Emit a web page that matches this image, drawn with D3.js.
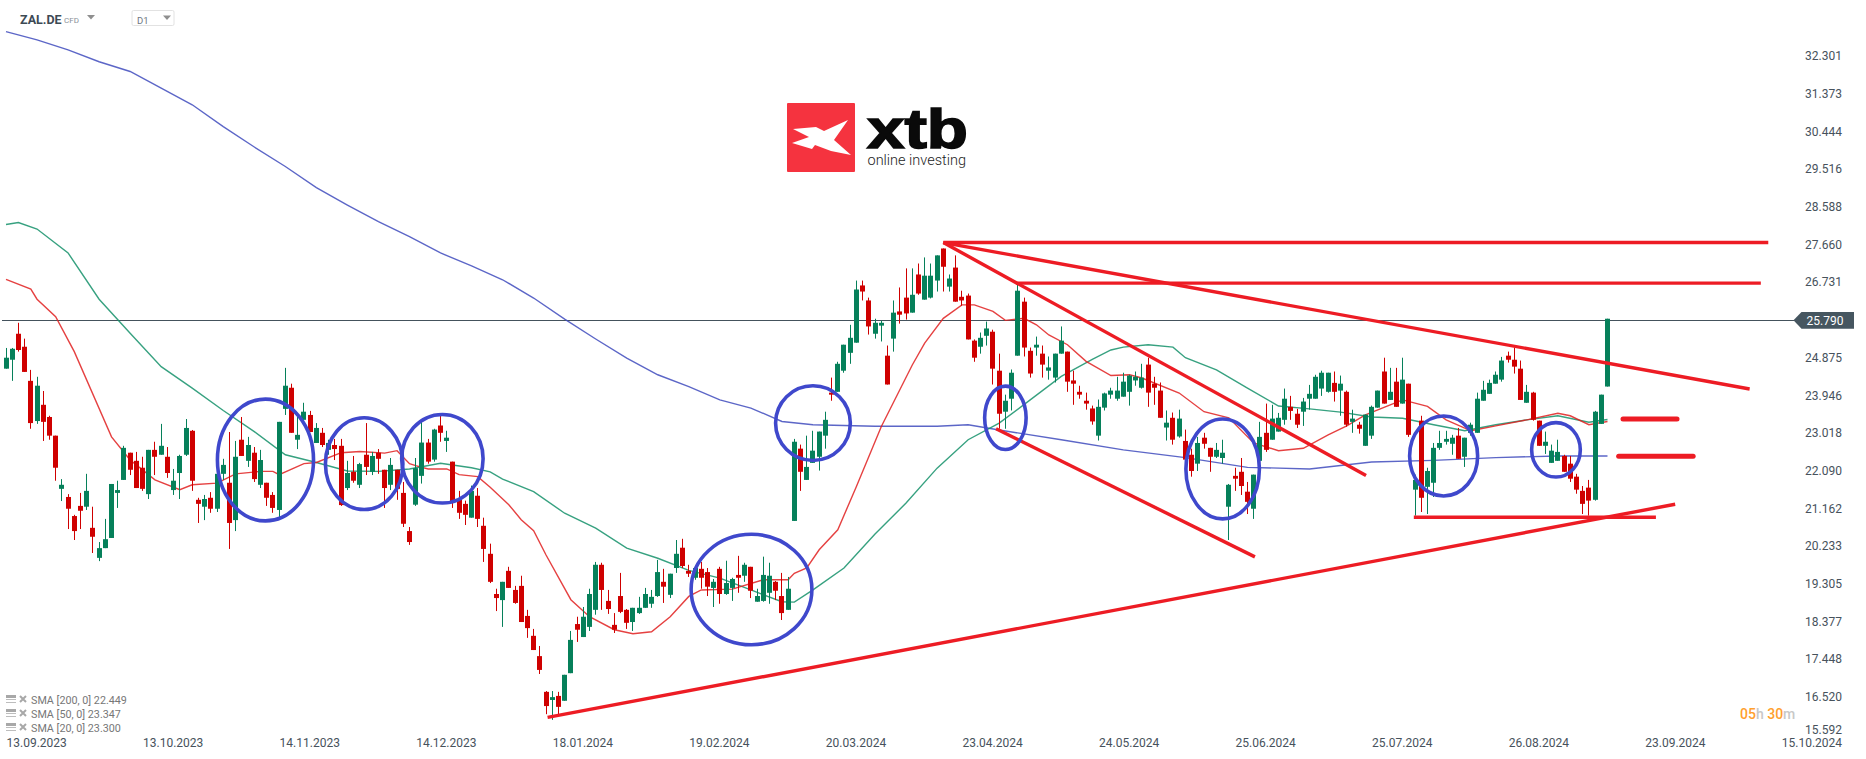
<!DOCTYPE html>
<html>
<head>
<meta charset="utf-8">
<style>
  html, body { margin: 0; padding: 0; background: #fff; overflow: hidden; }
  svg text { font-family: Roboto, sans-serif; }
</style>
<script src="https://cdn.jsdelivr.net/npm/d3@7"></script>
</head>
<body>
<svg id="chart" width="1866" height="759"></svg>
<script>
// [A] Data ---------------------------------------------------------------------
const highs = [
  25.11,25.11,25.73,25.34,24.57,24.40,24.05,23.44,22.95,21.88,
  21.51,21.00,21.54,22.01,21.20,20.33,20.90,21.76,21.84,22.70,
  22.53,22.55,22.43,22.60,22.80,23.24,22.67,22.13,22.48,23.36,
  23.09,21.42,21.49,21.56,22.08,22.38,23.04,22.82,23.41,22.92,
  22.67,22.60,21.79,21.56,23.29,24.62,24.23,23.46,23.76,23.56,
  23.26,23.14,22.85,22.87,22.87,22.33,22.45,22.28,23.26,22.55,
  22.62,22.11,22.40,22.11,21.81,20.70,22.40,23.30,22.87,23.12,
  23.47,23.07,22.31,21.59,21.35,21.72,21.66,20.93,20.29,19.18,
  19.35,19.72,19.25,19.50,18.66,18.19,17.77,16.66,16.66,16.64,
  17.06,18.14,18.49,18.73,19.18,19.84,19.82,19.15,18.58,19.57,
  18.68,18.71,18.98,19.20,19.15,19.89,19.67,19.55,20.38,20.41,
  19.77,19.69,19.84,19.69,19.42,19.72,19.87,19.45,19.99,19.82,
  19.72,19.18,19.97,19.82,19.37,19.57,19.47,22.87,22.73,22.95,
  23.07,23.05,23.54,24.38,24.77,25.19,25.68,26.77,26.77,26.35,
  25.83,25.78,25.17,26.28,26.60,27.07,27.07,27.19,27.34,27.19,
  27.39,27.56,26.92,27.39,26.52,26.45,25.32,25.49,25.76,25.56,
  24.97,23.96,24.58,26.67,26.35,25.12,25.39,25.17,24.90,24.97,
  25.64,25.02,24.55,24.18,24.01,23.69,23.84,24.01,24.13,24.40,
  24.50,24.45,24.53,24.72,24.87,24.40,24.26,23.57,23.52,23.59,
  23.10,22.63,22.92,23.02,22.65,22.77,22.85,21.76,22.16,22.40,
  21.81,21.99,23.29,23.74,23.71,23.51,24.11,23.93,23.61,23.88,
  24.20,24.45,24.55,24.50,24.53,24.43,24.06,23.59,23.29,23.47,
  23.69,24.06,24.87,24.62,24.62,24.87,24.23,21.99,23.44,22.16,
  22.77,23.07,23.07,22.97,23.14,22.90,23.27,24.01,24.30,24.33,
  24.53,24.89,25.02,25.12,24.80,24.20,24.03,23.32,23.05,22.73,
  22.85,22.48,22.45,22.01,21.71,21.86,23.56,23.96,25.83
];
const lows = [
  24.60,24.30,25.02,24.52,23.12,23.24,22.82,22.85,21.84,21.34,
  20.65,20.38,20.65,21.12,20.06,19.86,20.18,20.43,21.17,21.86,
  21.98,21.66,21.59,21.39,21.98,22.48,21.91,21.49,21.39,22.45,
  21.59,20.80,20.87,21.05,21.07,21.86,20.16,20.60,22.45,22.18,
  21.81,21.66,21.22,21.05,20.92,23.46,23.02,22.62,23.34,23.04,
  22.77,22.67,22.48,22.35,21.22,21.61,21.79,21.66,21.98,21.98,
  22.01,21.17,21.61,21.37,20.70,20.26,21.22,21.77,22.26,22.31,
  22.80,22.55,21.17,20.90,20.75,20.93,20.70,19.84,19.32,18.63,
  18.24,19.20,18.81,18.36,17.97,17.67,17.08,16.09,15.95,16.07,
  16.42,17.10,17.87,17.99,18.14,18.54,18.66,18.56,18.09,18.58,
  18.19,18.14,18.56,18.71,18.71,18.98,18.83,18.95,19.57,19.69,
  19.47,19.40,19.18,19.00,18.73,18.81,19.03,18.88,19.08,19.35,
  18.95,18.86,18.86,18.81,18.90,18.41,18.66,20.85,21.59,21.86,
  22.28,22.09,22.63,23.81,24.03,24.50,24.72,25.24,26.28,25.44,
  25.34,25.27,24.21,25.02,25.71,25.81,25.98,26.42,26.30,26.33,
  26.50,26.50,26.50,26.25,26.15,25.32,24.77,24.97,25.17,24.21,
  23.12,23.12,23.57,24.92,24.90,24.38,24.92,24.38,24.33,24.26,
  24.97,24.03,23.71,23.86,23.59,23.22,22.83,23.57,23.86,23.81,
  23.91,23.69,24.18,24.11,23.66,23.71,23.39,22.83,22.73,22.90,
  22.36,21.94,22.08,22.63,22.06,22.40,22.26,20.38,21.59,21.49,
  21.02,20.90,22.33,22.55,22.85,23.05,23.22,23.34,23.14,23.19,
  23.59,23.86,23.93,24.01,23.79,23.44,23.17,23.02,23.00,22.70,
  22.87,23.64,23.74,23.83,23.66,23.74,22.92,20.98,21.07,21.02,
  21.44,22.60,22.73,22.48,22.38,22.18,22.95,23.02,23.81,23.98,
  24.23,24.28,24.75,24.48,23.83,23.76,23.32,22.70,22.50,22.28,
  22.33,22.06,21.81,21.52,21.02,20.98,21.35,23.24,24.16
];
const opens = [
  24.60,24.82,25.46,25.14,24.30,23.31,23.71,23.41,22.95,21.64,
  21.44,20.97,21.22,21.20,20.68,19.94,20.18,20.43,21.54,21.86,
  22.53,22.33,22.16,21.51,22.60,22.48,22.43,21.61,22.03,22.48,
  23.07,21.37,21.20,21.42,21.15,22.01,21.79,20.87,22.85,22.33,
  22.53,21.74,21.79,21.49,21.12,23.61,24.13,22.85,23.34,23.46,
  22.77,23.02,22.60,22.72,22.70,21.66,22.06,21.74,22.48,22.06,
  22.53,22.11,21.74,22.11,21.54,20.60,21.25,21.96,22.78,22.36,
  23.20,22.82,22.31,21.37,21.27,20.93,21.47,20.73,20.04,19.05,
  18.90,19.62,19.15,19.25,18.51,18.02,17.52,16.64,16.44,16.54,
  16.42,17.10,18.31,17.99,18.24,18.66,19.77,18.88,18.29,19.00,
  18.66,18.36,18.58,18.71,18.81,19.00,19.35,19.03,19.69,20.19,
  19.62,19.45,19.67,19.59,19.20,19.67,19.05,19.20,19.52,19.50,
  19.72,18.86,18.88,19.08,19.35,19.00,18.66,20.85,22.63,21.86,
  22.28,22.43,22.95,24.01,24.03,24.55,24.99,25.24,26.65,26.28,
  25.46,25.66,24.92,25.34,26.01,26.35,25.98,26.92,26.30,26.35,
  26.77,27.56,26.62,27.09,26.37,26.40,25.29,25.14,25.41,25.51,
  24.55,23.54,23.86,24.92,26.25,25.04,25.12,24.97,24.55,24.38,
  24.97,25.02,24.31,24.03,23.81,23.62,22.95,23.64,23.96,23.86,
  23.91,24.03,24.31,24.13,24.70,24.23,24.06,23.15,23.39,22.93,
  22.82,22.48,22.26,22.90,22.65,22.43,22.40,21.20,21.96,22.06,
  21.57,21.15,22.33,23.02,22.85,23.05,23.34,23.66,23.49,23.54,
  23.86,23.86,24.11,24.03,24.25,24.06,24.03,23.29,23.22,22.70,
  22.95,23.64,24.53,23.83,24.28,23.74,24.23,21.62,23.32,21.69,
  21.79,22.65,22.80,22.75,22.95,22.43,23.02,23.02,23.81,23.98,
  24.23,24.33,24.92,24.82,24.60,23.76,24.01,23.32,22.70,22.28,
  22.33,22.45,22.26,21.94,21.59,21.67,21.37,23.24,24.16
];
const closes = [
  24.87,25.09,25.06,24.52,23.26,24.18,23.29,22.95,22.16,21.74,
  21.15,20.60,21.10,21.59,20.46,20.18,20.40,21.76,21.61,22.65,
  22.11,21.66,21.64,22.60,22.43,22.70,22.03,21.84,22.45,23.14,
  21.84,21.27,21.39,21.15,22.01,22.23,20.80,22.43,22.45,22.72,
  21.88,22.35,21.42,21.17,23.29,24.18,23.02,22.97,23.54,23.04,
  23.14,22.72,22.77,22.62,21.24,22.03,21.84,22.25,22.18,22.45,
  22.38,21.66,22.23,21.64,20.78,20.33,22.15,22.78,22.31,23.10,
  23.02,22.90,21.32,21.05,21.00,21.59,20.90,20.16,19.35,18.95,
  19.35,19.20,18.83,18.36,18.21,17.67,17.18,16.29,16.51,16.27,
  17.06,17.92,18.17,18.49,19.05,19.77,19.15,18.68,18.17,18.61,
  18.34,18.71,18.71,19.05,18.98,19.59,19.23,19.55,20.04,19.74,
  19.55,19.69,19.45,19.23,19.35,19.05,19.32,19.42,19.45,19.77,
  19.13,19.00,19.52,19.50,19.13,18.58,19.18,22.80,22.06,22.18,
  22.58,23.05,23.34,23.96,24.72,25.19,25.36,26.55,26.50,25.64,
  25.73,25.73,24.21,25.98,25.93,25.96,26.42,26.45,26.89,26.89,
  27.39,27.11,26.82,26.25,26.28,25.32,24.87,25.36,25.59,24.60,
  23.49,23.81,24.50,26.52,25.12,24.48,25.19,24.70,24.63,24.97,
  25.29,24.28,24.23,23.96,23.74,23.30,23.66,23.99,24.06,24.06,
  24.28,24.43,24.40,24.38,24.01,24.13,23.39,23.27,22.85,23.37,
  22.36,22.08,22.77,22.75,22.43,22.60,22.53,21.74,21.89,21.71,
  21.32,21.99,22.92,22.60,23.37,23.39,23.86,23.56,23.22,23.79,
  23.98,24.40,24.50,24.50,24.03,24.23,23.22,23.37,23.12,23.47,
  23.66,24.06,23.74,24.03,23.66,24.33,22.97,21.86,21.42,22.08,
  22.65,22.77,22.87,22.90,22.38,22.90,23.22,23.86,24.08,24.25,
  24.45,24.80,24.82,24.65,23.83,24.03,23.34,22.70,22.80,22.58,
  22.55,22.06,21.89,21.62,21.27,21.35,23.54,23.96,25.83
];

// Moving averages: candle number and value, read at intervals
const sma200Bars = [0,5,10,15,20,25,30,35,40,45,50,55,60,65,70,75,80,85,90,95,100,105,110,115,120,125,130,140,150,155,160,170,180,190,200,210,220,230,240,250,258];
const sma200Vals = [32.90,32.70,32.45,32.16,31.92,31.51,31.10,30.56,30.06,29.58,29.06,28.63,28.22,27.85,27.45,27.13,26.79,26.34,25.82,25.33,24.86,24.45,24.16,23.83,23.63,23.30,23.22,23.18,23.18,23.22,23.09,22.85,22.60,22.41,22.17,22.13,22.30,22.34,22.41,22.45,22.449];

const sma50Bars = [0,2,5,10,15,20,25,30,35,40,45,50,55,60,65,70,75,78,80,85,90,95,100,105,110,115,120,125,127,130,135,140,145,150,155,160,165,170,175,178,180,184,188,190,195,200,205,210,215,220,225,230,235,240,245,250,255,258];
const sma50Vals = [28.15,28.20,28.04,27.45,26.31,25.47,24.65,24.12,23.57,23.05,22.48,22.29,22.08,22.07,22.13,22.27,22.16,22.06,21.88,21.57,21.04,20.67,20.18,19.93,19.63,19.44,19.15,18.86,18.85,19.15,19.69,20.53,21.29,22.15,22.85,23.26,23.83,24.41,24.83,25.06,25.13,25.19,25.13,24.87,24.57,24.12,23.68,23.61,23.53,23.41,23.38,23.22,23.07,23.22,23.34,23.44,23.28,23.347];

const sma20Bars = [0,4,5,8,11,17,20,24,28,30,34,37,41,43,44,48,50,54,57,61,63,65,66,68,71,73,76,78,81,83,85,87,91,94,98,101,104,107,110,112,117,122,126,127,129,131,134,137,141,146,148,151,154,156,159,161,164,166,168,171,174,178,181,183,189,193,197,201,205,209,213,216,219,223,225,229,232,236,240,245,250,252,255,258];
const sma20Vals = [26.80,26.56,26.31,25.88,25.02,22.92,22.35,21.86,21.62,21.74,21.78,22.01,22.07,22.07,21.99,22.26,22.29,22.53,22.56,22.52,22.58,22.26,22.21,22.13,22.13,21.99,21.94,21.68,21.25,20.88,20.61,20.01,18.91,18.49,18.17,18.07,18.12,18.49,18.99,19.15,19.17,19.40,19.40,19.56,19.69,20.14,20.63,21.70,23.17,24.69,25.23,25.84,26.17,26.17,26.01,25.79,25.84,25.68,25.43,25.19,24.78,24.43,24.45,24.37,24.00,23.54,23.39,22.77,22.58,22.64,22.97,23.19,23.46,23.71,23.83,23.67,23.34,23.07,23.19,23.34,23.50,23.44,23.22,23.30];

const currentPrice = 25.79;
const yTickValues = [15.592,16.520,17.448,18.377,19.305,20.233,21.162,22.090,23.018,23.946,24.875,26.731,27.660,28.588,29.516,30.444,31.373,32.301];
const xTickBars = [0,22,44,66,88,110,132,154,176,198,220,242,264,286];
const xTickLabels = ["13.09.2023","13.10.2023","14.11.2023","14.12.2023","18.01.2024","19.02.2024","20.03.2024","23.04.2024","24.05.2024","25.06.2024","25.07.2024","26.08.2024","23.09.2024","15.10.2024"];
const legendLabels = ["SMA [200, 0] 22.449","SMA [50, 0] 23.347","SMA [20, 0] 23.300"];

// Hand drawn annotations: [bar, price, bar, price]
const trendLines = [
  [151.0,27.706,283.9,27.706],
  [162.7,26.706,282.7,26.706],
  [151.0,27.706,280.9,24.10],
  [151.0,27.706,219.1,21.97],
  [159.5,23.12,201.2,19.965],
  [87.25,16.01,268.9,21.26],
  [226.8,20.94,265.8,20.94]
];
const shortBars = [[260.5,23.36,269.2,23.36],[259.8,22.445,271.8,22.445]];
// [bar, price, radius in bars, radius in price]
const ellipses = [
  [41.8,22.35,7.74,1.50],
  [57.7,22.26,6.24,1.13],
  [70.3,22.38,6.56,1.09],
  [120.1,19.16,9.73,1.36],
  [130.0,23.26,6.02,0.92],
  [161.0,23.39,3.34,0.78],
  [196.0,22.13,5.92,1.23],
  [231.6,22.45,5.48,0.985],
  [249.7,22.60,3.92,0.67]
];

// [B] Scales ------------------------------------------------------------------
const upColor = "#06805a";
const downColor = "#cf0000";
const textColor = "#47525c";
const svg = d3.select("#chart");

const x = d3.scaleLinear().domain([0, 258]).range([6, 1607.5]);
const y = d3.scaleLinear().domain([15.592, 32.301]).range([734.4, 56]);

// [C] Price line --------------------------------------------------------------
svg.append("line")
  .attr("x1", 2).attr("x2", 1796)
  .attr("y1", Math.round(y(currentPrice)) + 0.5).attr("y2", Math.round(y(currentPrice)) + 0.5)
  .attr("stroke", "#44525c").attr("stroke-width", 1);

// [D] Moving averages ---------------------------------------------------------
function drawSma(bars, vals, color) {
  const line = d3.line().x(d => x(d[0])).y(d => y(d[1]));
  svg.append("path")
    .attr("d", line(d3.zip(bars, vals)))
    .attr("fill", "none")
    .attr("stroke", color)
    .attr("stroke-width", 1.4)
    .attr("stroke-opacity", 0.85);
}
drawSma(sma200Bars, sma200Vals, "#3f4bbd");
drawSma(sma50Bars, sma50Vals, "#14916a");
drawSma(sma20Bars, sma20Vals, "#e02020");

// [E] Candles -----------------------------------------------------------------
const candles = svg.append("g").selectAll("g")
  .data(d3.range(highs.length))
  .join("g")
  .attr("fill", i => closes[i] >= opens[i] ? upColor : downColor);

candles.append("rect")
  .attr("x", i => Math.floor(x(i)))
  .attr("width", 1)
  .attr("y", i => y(highs[i]))
  .attr("height", i => y(lows[i]) - y(highs[i]));

candles.append("rect")
  .attr("x", i => Math.floor(x(i)) - 2)
  .attr("width", 5)
  .attr("y", i => y(Math.max(opens[i], closes[i])))
  .attr("height", i => Math.max(1, Math.abs(y(opens[i]) - y(closes[i]))));

// [F] Annotations -------------------------------------------------------------
svg.append("g").selectAll("line")
  .data(trendLines)
  .join("line")
  .attr("x1", d => x(d[0])).attr("y1", d => y(d[1]))
  .attr("x2", d => x(d[2])).attr("y2", d => y(d[3]))
  .attr("stroke", "#ed1c24").attr("stroke-width", 3.4);

svg.append("g").selectAll("line")
  .data(shortBars)
  .join("line")
  .attr("x1", d => x(d[0])).attr("y1", d => y(d[1]))
  .attr("x2", d => x(d[2])).attr("y2", d => y(d[3]))
  .attr("stroke", "#ed1c24").attr("stroke-width", 5).attr("stroke-linecap", "round");

svg.append("g").selectAll("ellipse")
  .data(ellipses)
  .join("ellipse")
  .attr("cx", d => x(d[0])).attr("cy", d => y(d[1]))
  .attr("rx", d => x(d[2]) - x(0)).attr("ry", d => y(0) - y(d[3]))
  .attr("fill", "none")
  .attr("stroke", "#3f48cc").attr("stroke-width", 3.6);

// [G] Axes --------------------------------------------------------------------
const yAxis = svg.append("g")
  .attr("transform", "translate(1842,0)")
  .call(d3.axisRight(y).tickValues(yTickValues).tickSize(0).tickFormat(d3.format(".3f")));
yAxis.select(".domain").remove();
yAxis.selectAll("text")
  .attr("x", 0).attr("text-anchor", "end")
  .attr("font-size", 12).attr("fill", textColor)
  .attr("dy", d => d === 15.592 ? "-0.1em" : "0.32em")
  .style("font-family", "Roboto, sans-serif");

const xAxis = svg.append("g")
  .attr("transform", "translate(0,747)")
  .call(d3.axisBottom(x).tickValues(xTickBars).tickSize(0).tickFormat((d, i) => xTickLabels[i]));
xAxis.select(".domain").remove();
xAxis.selectAll("text")
  .attr("y", 0).attr("dy", 0).attr("text-anchor", "start")
  .attr("font-size", 12).attr("fill", textColor)
  .style("font-family", "Roboto, sans-serif");

// [H] Current price tag -------------------------------------------------------
const tagY = y(currentPrice);
svg.append("path")
  .attr("d", `M1793.5,${tagY} l8,-8.3 h52.5 v16.6 h-52.5 z`)
  .attr("fill", "#465660");
svg.append("text")
  .attr("x", 1806.5).attr("y", tagY + 4.5)
  .attr("font-size", 12).attr("fill", "#fff")
  .text(d3.format(".3f")(currentPrice));

// [I] Header ------------------------------------------------------------------
svg.append("text").attr("x", 20).attr("y", 24)
  .attr("font-size", 12.5).attr("font-weight", 700).attr("fill", "#3d4a54").text("ZAL.DE");
svg.append("text").attr("x", 64).attr("y", 23)
  .attr("font-size", 8).attr("fill", "#8a9198").text("CFD");
svg.append("path").attr("d", "M87,15 h8 l-4,4.5 z").attr("fill", "#8f8f8f");
svg.append("rect").attr("x", 132).attr("y", 10.5).attr("width", 42).attr("height", 15).attr("rx", 1.5)
  .attr("fill", "#fff").attr("stroke", "#e2e2e2");
svg.append("text").attr("x", 137).attr("y", 24)
  .attr("font-size", 9.5).attr("fill", "#6f7780").text("D1");
svg.append("path").attr("d", "M163,15.5 h8 l-4,4.5 z").attr("fill", "#8f8f8f");

// [J] Legend ------------------------------------------------------------------
const legend = svg.append("g").selectAll("g")
  .data(legendLabels)
  .join("g")
  .attr("transform", (d, i) => `translate(0,${700 + i * 14})`);
legend.append("rect").attr("x", 6).attr("y", -5).attr("width", 10).attr("height", 3).attr("fill", "#a8a8a8");
legend.append("rect").attr("x", 6).attr("y", -1).attr("width", 10).attr("height", 1).attr("fill", "#bdbdbd");
legend.append("rect").attr("x", 6).attr("y", 2).attr("width", 10).attr("height", 1).attr("fill", "#bdbdbd");
legend.append("path").attr("d", "M20,-4 l6,6 M26,-4 l-6,6")
  .attr("stroke", "#a8a8a8").attr("stroke-width", 2);
legend.append("text").attr("x", 31).attr("y", 3.5)
  .attr("font-size", 10.75).attr("fill", "#777").text(d => d);

// [K] Market timer ------------------------------------------------------------
const timer = svg.append("text").attr("x", 1740).attr("y", 719)
  .attr("font-size", 14).attr("font-weight", 500);
[["05", "#ffa02e"], ["h ", "#c8c8c8"], ["30", "#ffa02e"], ["m", "#c8c8c8"]].forEach(p => {
  timer.append("tspan").attr("fill", p[1]).text(p[0]);
});

// [L] Logo --------------------------------------------------------------------
const logo = svg.append("g");
logo.append("rect").attr("x", 787).attr("y", 103).attr("width", 68).attr("height", 69).attr("rx", 1)
  .attr("fill", "#f5333f");
logo.append("path")
  .attr("d", "M793,129 L816,127 L824,131 L848,120 L834,140 L851,155 L831,151 L815,145 L812,149 L792,143 L809,137 Z")
  .attr("fill", "#fff");
logo.append("text").attr("x", 867).attr("y", 148)
  .attr("font-size", 56).attr("font-weight", 700).attr("fill", "#0a0a0a")
  .attr("stroke", "#0a0a0a").attr("stroke-width", 1.6)
  .attr("textLength", 101).attr("lengthAdjust", "spacingAndGlyphs")
  .style("font-family", "'Liberation Sans', sans-serif")
  .text("xtb");
logo.append("text").attr("x", 867.5).attr("y", 165)
  .attr("font-size", 15).attr("font-weight", 300).attr("fill", "#1c1c1c")
  .attr("textLength", 98.5).attr("lengthAdjust", "spacingAndGlyphs")
  .text("online investing");
</script>
</body>
</html>
